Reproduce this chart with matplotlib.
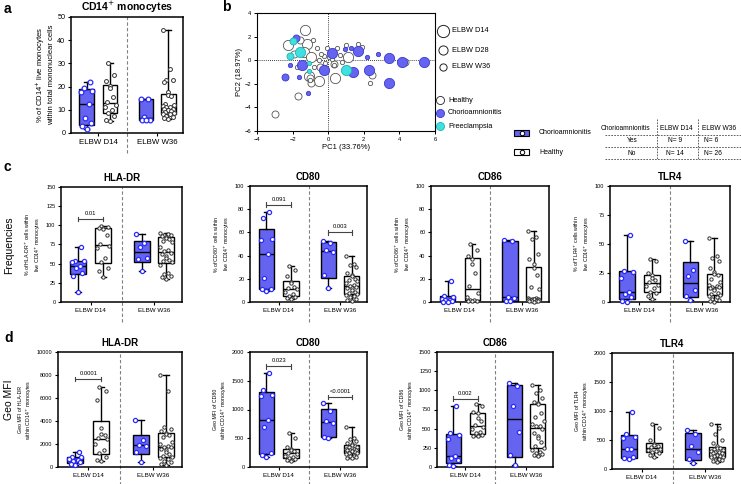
import numpy as np
import matplotlib.pyplot as plt

plt.rcParams['font.family'] = ['Liberation Sans', 'DejaVu Sans']

BLUE = '#6464f0'
BLUE_EDGE = '#2a2aff'
CYAN = '#40e0e0'
GREY_LINE = '#808080'

# ---------------- data ----------------
groups = ['ELBW D14', 'ELBW W36']

# panel a: % CD14+ monocytes  (order: D14 chorio, D14 healthy, W36 chorio, W36 healthy)
cd14_d14_c = [22, 19.5, 18.2, 17.5, 12.4, 6.4, 4.2, 2.9, 1.7]
cd14_d14_h = [30, 25, 22.5, 20.2, 19.6, 15.5, 13.5, 12, 11.2, 10, 8.8, 7.5, 5.5, 5.3]
cd14_w36_c = [14.7, 14.7, 7.0, 5.6, 5.4, 5.4]
cd14_w36_h = [44.5, 27.5, 23, 22.8, 22, 17.5, 16.5, 16, 12.5, 12, 11.5, 11, 11, 10.5,
              10.5, 10, 10, 9.5, 9, 8.5, 8, 8, 7.5, 7, 6.5, 6.0]

# panel c: frequencies
hla_f_d14_c = [72, 54, 53, 52, 47, 44, 38, 34, 13.5]
hla_f_d14_h = [99, 98, 97, 96, 95, 88, 75, 73, 70, 58, 52, 45, 40, 32]
hla_f_w36_c = [89, 77, 72, 58, 56, 41]
hla_f_w36_h = [90, 89, 88, 87, 86, 85, 84, 82, 80, 78, 72, 68, 66, 64, 62, 60, 58, 55,
               54, 52, 48, 38, 36, 34, 32, 30]

cd80_f_d14_c = [77.5, 72, 54, 53.5, 41.5, 20.5, 11.2, 11, 9.2]
cd80_f_d14_h = [31, 28, 22, 17, 16, 13, 12, 11, 9, 7, 5, 4, 3.5, 3]
cd80_f_w36_c = [53, 51, 45, 43, 23.5, 12.5]
cd80_f_w36_h = [40, 33, 32, 30, 25, 23, 22, 20, 19, 18, 16, 15, 14, 13, 12, 12, 10, 9,
                8, 7, 6, 5, 4, 3, 2, 1]

cd86_f_d14_c = [18, 5.5, 4, 3, 2, 1.5, 0.8, 0.3, 0]
cd86_f_d14_h = [50, 45, 40, 37, 33, 25, 14, 8, 4, 2, 1.5, 1, 0.8, 0.5]
cd86_f_w36_c = [53.5, 52.5, 4.5, 3.5, 1, 0.5]
cd86_f_w36_h = [61, 56, 54, 41, 37, 33, 29, 23, 13, 11, 3.5, 3.2, 3, 3, 2.8, 2.5, 2.3,
                2, 2, 1.8, 1.5, 1.2, 1, 0.8, 0.5, 0.3]

tlr4_f_d14_c = [58, 27, 26, 21, 9, 7, 4, 1, 0]
tlr4_f_d14_h = [37, 35, 25, 23, 21, 19, 17, 15, 14, 12, 9, 8, 5, 2.5]
tlr4_f_w36_c = [53, 28, 22, 10, 5, 2]
tlr4_f_w36_h = [55, 40, 38, 35, 29, 26, 24, 23, 20, 17, 15, 14, 13, 13, 12, 11, 10, 8,
                7, 6, 5, 4, 3, 2, 1, 0]

# panel d: geo MFI
hla_m_d14_c = [1300, 900, 850, 700, 600, 500, 400, 300, 200]
hla_m_d14_h = [7000, 6600, 5800, 3400, 2900, 2800, 2500, 2400, 2000, 1500, 1200, 900, 600, 500]
hla_m_w36_c = [4100, 2350, 1950, 1850, 1300, 450]
hla_m_w36_h = [8000, 6600, 3500, 3300, 3100, 3000, 2900, 2800, 2600, 2200, 2000, 1800,
               1700, 1700, 1600, 1500, 1300, 1100, 1000, 900, 800, 700, 500, 400, 300, 200]

cd80_m_d14_c = [1630, 1340, 1260, 1240, 810, 700, 240, 210, 180]
cd80_m_d14_h = [600, 500, 350, 310, 290, 270, 250, 220, 200, 180, 160, 140, 120, 100]
cd80_m_w36_c = [1110, 970, 800, 760, 520, 500]
cd80_m_w36_h = [700, 500, 480, 450, 420, 400, 380, 360, 350, 340, 320, 310, 300, 300,
                290, 280, 270, 260, 250, 240, 220, 200, 190, 180, 160, 150]

cd86_m_d14_c = [790, 450, 420, 370, 140, 120, 90, 20, 10]
cd86_m_d14_h = [820, 790, 720, 700, 640, 600, 550, 520, 500, 460, 440, 420, 410, 410]
cd86_m_w36_c = [1090, 1060, 800, 460, 160, 20]
cd86_m_w36_h = [1070, 1000, 970, 900, 850, 830, 820, 700, 650, 600, 560, 540, 530, 500,
                450, 400, 380, 320, 280, 250, 220, 200, 180, 170, 160, 150]

tlr4_m_d14_c = [980, 600, 560, 540, 350, 350, 200, 190, 180]
tlr4_m_d14_h = [770, 700, 500, 430, 420, 400, 380, 350, 330, 310, 300, 280, 250, 210]
tlr4_m_w36_c = [680, 600, 400, 300, 170, 100]
tlr4_m_w36_h = [770, 700, 600, 500, 450, 400, 370, 360, 350, 330, 310, 300, 290, 280,
                270, 250, 240, 230, 220, 210, 200, 180, 160, 150, 130, 120]

# panel b: PCA  (size code: 0 = D14, 1 = D28, 2 = W36; group: H, C, P)
pc1 = [-1.29, -2.28, -1.2, -1.38, -0.97, -1.1, -0.54, 0.36, 1.1,
       0.24, 1.42, 2.3, 3.42, 4.17, 3.42, 5.4, -1.48, -0.22, 1.66,
       1.0, -1.57,
       -1.57, -1.94, -1.72, -3.0, -0.95, -0.45, 0.3, 2.45, 4.3, -1.0,
       -1.83, -2.41,
       -2.17, -1.98,
       -0.88, -0.64, -0.07, 0.49, 1.0, 1.7, 1.89, -0.26, 0.02, 0.67, 0.77, 0.3, -0.17,
       -0.54, -0.82, -1.0, 2.36, -1.76, 0.2, -0.4,
       -2.13, -1.66, -1.16, 2.17, 2.82, 0.92, 1.3,
       -1.07, -1.07]
pc2 = [2.59, 1.32, 1.41, 0.70, 0.23, -1.35, -1.77, -1.55, 0.23,
       0.65, -1.04, -0.85, 0.2, -0.14, -1.97, -0.14, -0.37, -0.85, 0.79,
       -0.79, 0.7,
       1.69, 0.56, -3.01, -4.56, -1.97, -0.56, -0.28, -1.27, -0.14, -1.5,
       1.89, -1.41,
       0.34, 1.6,
       1.75, 1.07, 1.07, 1.07, 1.27, 1.41, 1.13, 0.34, 0.28, 0.42, -0.14, -0.42, -0.23,
       0.0, -0.56, -1.69, -1.97, -0.56, 0.1, 0.5,
       -0.42, -1.41, -2.76, 0.23, 0.56, 0.99, 1.0,
       -0.93, -0.2]
pc_time = [0] * 21 + [1] * 14 + [2] * 29
pc_group = (['H'] * 9 + ['C'] * 10 + ['P'] * 2 +
            ['H'] * 10 + ['C'] * 2 + ['P'] * 2 +
            ['H'] * 20 + ['C'] * 7 + ['P'] * 2)

table_rows = ['Yes', 'No']
n_d14 = [9, 14]
n_w36 = [6, 26]

# ---------------- figure ----------------
W, H = 741, 484
fig = plt.figure(figsize=(W / 100, H / 100), dpi=100)

ov = fig.add_axes([0, 0, 1, 1])
ov.set_xlim(0, W)
ov.set_ylim(H, 0)
ov.axis('off')


def rect(x0, x1, y0, y1):
    return [x0 / W, 1 - y1 / H, (x1 - x0) / W, (y1 - y0) / H]


POS = [0.7, 1.75, 3.35, 4.35]
TICKPOS = [1.22, 3.85]
OFFS = [0, -0.17, 0.17, -0.08, 0.08, -0.22, 0.22, -0.12, 0.12, 0.0]


def box_panel(r, title, ylabel, ylim, yticks, data, brackets=(), big=False):
    ax = fig.add_axes(r)
    fs_t = 5.2 if big else 4.0
    for k, vals in enumerate(data):
        v = np.asarray(vals, float)
        q1, med, q3 = np.percentile(v, [25, 50, 75], method='weibull')
        st = dict(whislo=v.min(), q1=q1, med=med, q3=q3, whishi=v.max(), fliers=[])
        chorio = k % 2 == 0
        ax.bxp([st], positions=[POS[k]], widths=0.65, patch_artist=True,
               showfliers=False, capwidths=0.22,
               boxprops=dict(facecolor=BLUE if chorio else 'white', edgecolor='k', lw=1),
               medianprops=dict(color='k', lw=1),
               whiskerprops=dict(color='k', lw=1), capprops=dict(color='k', lw=1),
               zorder=2)
        order = np.argsort(v)
        xs = np.empty(len(v))
        for i, idx in enumerate(order):
            xs[idx] = POS[k] + OFFS[i % len(OFFS)] * 1.1
        if chorio:
            ax.plot(xs, v, 'o', ms=3.4 if big else 3.0, mfc='white', mec=BLUE_EDGE,
                    mew=0.9, zorder=3, clip_on=False)
        else:
            ax.plot(xs, v, 'o', ms=2.8 if big else 2.4, mfc='white', mec='#333333',
                    mew=0.7, zorder=3, clip_on=False)
    ax.set_xlim(0, 5)
    ax.set_ylim(*ylim)
    ax.set_yticks(yticks)
    ax.set_xticks(TICKPOS)
    ax.set_xticklabels(groups, fontsize=fs_t + 0.5)
    ax.tick_params(axis='y', labelsize=fs_t, length=2.5, width=0.8, pad=1.5)
    ax.tick_params(axis='x', length=2.5, width=0.8, pad=1.5)
    for s in ax.spines.values():
        s.set_linewidth(1.1)
    ax.plot([2.5, 2.5], [-0.17, 1], transform=ax.get_xaxis_transform(),
            ls=(0, (3, 2)), color=GREY_LINE, lw=0.8, clip_on=False, zorder=1)
    ax.set_title(title, fontsize=7.5 if big else 7, fontweight='bold', pad=4)
    ax.set_ylabel(ylabel, fontsize=5.5 if big else 3.8, labelpad=2)
    dy = (ylim[1] - ylim[0]) * 0.02
    for i, j, y, txt in brackets:
        ax.plot([POS[i], POS[j]], [y, y], color='#444444', lw=0.8)
        for p in (POS[i], POS[j]):
            ax.plot([p, p], [y - dy, y + dy], color='#444444', lw=0.8)
        ax.text((POS[i] + POS[j]) / 2, y + dy * 1.3, txt, ha='center', va='bottom',
                fontsize=4.2)
    return ax


# panel a
box_panel(rect(71, 183, 17, 133), 'CD14$^{+}$ monocytes',
          '% of CD14$^{+}$ live monocytes\nwithin total mononuclear cells',
          (0, 50), range(0, 51, 10),
          [cd14_d14_c, cd14_d14_h, cd14_w36_c, cd14_w36_h], big=True)

# row c
box_panel(rect(61, 182, 187, 302), 'HLA-DR',
          '% of HLA-DR$^{+}$ cells within\nlive CD14$^{+}$ monocytes',
          (0, 150), range(0, 151, 25),
          [hla_f_d14_c, hla_f_d14_h, hla_f_w36_c, hla_f_w36_h],
          [(0, 1, 108, '0.01')])
box_panel(rect(250, 367, 186, 302), 'CD80',
          '% of CD80$^{+}$ cells within\nlive CD14$^{+}$ monocytes',
          (0, 100), range(0, 101, 20),
          [cd80_f_d14_c, cd80_f_d14_h, cd80_f_w36_c, cd80_f_w36_h],
          [(0, 1, 84, '0.091'), (2, 3, 60, '0.003')])
box_panel(rect(431, 549, 186, 302), 'CD86',
          '% of CD86$^{+}$ cells within\nlive CD14$^{+}$ monocytes',
          (0, 100), range(0, 101, 20),
          [cd86_f_d14_c, cd86_f_d14_h, cd86_f_w36_c, cd86_f_w36_h])
box_panel(rect(610, 730, 186, 302), 'TLR4',
          '% of TLR4$^{+}$ cells within\nlive CD14$^{+}$ monocytes',
          (0, 100), range(0, 101, 25),
          [tlr4_f_d14_c, tlr4_f_d14_h, tlr4_f_w36_c, tlr4_f_w36_h])

# row d
box_panel(rect(58, 182, 352, 467), 'HLA-DR',
          'Geo MFI of HLA-DR\nwithin CD14$^{+}$ monocytes',
          (0, 10000), range(0, 10001, 2000),
          [hla_m_d14_c, hla_m_d14_h, hla_m_w36_c, hla_m_w36_h],
          [(0, 1, 7650, '0.0001')])
box_panel(rect(250, 367, 352, 467), 'CD80',
          'Geo MFI of CD80\nwithin CD14$^{+}$ monocytes',
          (0, 2000), range(0, 2001, 500),
          [cd80_m_d14_c, cd80_m_d14_h, cd80_m_w36_c, cd80_m_w36_h],
          [(0, 1, 1750, '0.023'), (2, 3, 1215, '<0.0001')])
box_panel(rect(437, 553, 352, 467), 'CD86',
          'Geo MFI of CD86\nwithin CD14$^{+}$ monocytes',
          (0, 1500), range(0, 1501, 250),
          [cd86_m_d14_c, cd86_m_d14_h, cd86_m_w36_c, cd86_m_w36_h],
          [(0, 1, 890, '0.002')])
box_panel(rect(612, 733, 353, 469), 'TLR4',
          'Geo MFI of TLR4\nwithin CD14$^{+}$ monocytes',
          (0, 2000), range(0, 2001, 500),
          [tlr4_m_d14_c, tlr4_m_d14_h, tlr4_m_w36_c, tlr4_m_w36_h])

# panel b: PCA
axb = fig.add_axes(rect(257, 435, 13, 131))
sizes = [34, 16, 6]
styles = {'H': ('white', '#555555'), 'C': (BLUE, '#3a3ad0'), 'P': (CYAN, '#20b0b0')}
x = np.array(pc1)
y = np.array(pc2)
t = np.array(pc_time)
g = np.array(pc_group)
for grp in ['H', 'C', 'P']:
    for tt in [0, 1, 2]:
        m = (g == grp) & (t == tt)
        fc, ec = styles[grp]
        axb.scatter(x[m], y[m], s=sizes[tt] * 1.6, facecolor=fc, edgecolor=ec,
                    linewidth=0.6, zorder=3)
axb.axvline(0, color='k', lw=0.6, ls=(0, (1, 1.5)), zorder=1)
axb.axhline(0, color='k', lw=0.6, ls=(0, (1, 1.5)), zorder=1)
axb.set_xlim(-4, 6)
axb.set_ylim(-6, 4)
axb.set_xticks(range(-4, 7, 2))
axb.set_yticks(range(-6, 5, 2))
axb.tick_params(labelsize=4.2, length=2.5, width=0.7, pad=1.5)
for s in axb.spines.values():
    s.set_linewidth(0.8)
axb.set_xlabel('PC1 (33.76%)', fontsize=5.5, labelpad=2)
axb.set_ylabel('PC2 (18.97%)', fontsize=5.5, labelpad=1)

# panel b legends
for yy, ms, lab in [(31, 8.8, 'ELBW D14'), (50, 6.6, 'ELBW D28'), (67, 5.2, 'ELBW W36')]:
    ov.plot([443], [yy], 'o', ms=ms, mfc='white', mec='#222222', mew=0.7)
    ov.text(452, yy, lab, fontsize=5.3, va='center')
for yy, key, lab in [(100, 'H', 'Healthy'), (113, 'C', 'Chorioamnionitis'),
                     (126, 'P', 'Preeclampsia')]:
    fc, ec = styles[key]
    ov.plot([440], [yy], 'o', ms=5.8, mfc=fc, mec='#222222' if key == 'H' else ec, mew=0.6)
    ov.text(448, yy, lab, fontsize=5.3, va='center')

# box legend
for yy, fc, lab in [(133, BLUE, 'Chorioamnionitis'), (152, 'white', 'Healthy')]:
    ov.add_patch(plt.Rectangle((514, yy - 3), 15, 6, facecolor=fc, edgecolor='k', lw=0.8))
    ov.plot([521.5], [yy], 'o', ms=3.2, mfc='white', mec='k', mew=0.7)
    ov.text(539, yy, lab, fontsize=5, va='center')

# table
tfs = 4.8
ov.text(625, 128, 'Chorioamnionitis', fontsize=tfs, ha='center', va='center')
ov.text(676, 128, groups[0], fontsize=tfs, ha='center', va='center')
ov.text(719, 128, groups[1], fontsize=tfs, ha='center', va='center')
for k, lab in enumerate(table_rows):
    yy = 141 + k * 12.5
    ov.text(632, yy, lab, fontsize=tfs, ha='center', va='center')
    ov.text(675, yy, f'N= {n_d14[k]}', fontsize=tfs, ha='center', va='center')
    ov.text(704, yy, f'N= {n_w36[k]}', fontsize=tfs, ha='left', va='center')
for yy in (134.5, 147, 159):
    ov.plot([605, 741], [yy, yy], color='#444444', lw=0.6, ls=(0, (2, 1.5)))
for xx in (657, 698):
    ov.plot([xx, xx], [119, 159], color='#444444', lw=0.6, ls=(0, (2, 1.5)))

# row titles and panel letters
ov.text(9, 245, 'Frequencies', fontsize=7.5, rotation=90, ha='center', va='center')
ov.text(9, 400, 'Geo MFI', fontsize=7.5, rotation=90, ha='center', va='center')
for lx, ly, lt in [(4, 9, 'a'), (222, 7, 'b'), (4, 167, 'c'), (4, 338, 'd')]:
    ov.text(lx, ly, lt, fontsize=10, fontweight='bold', ha='left', va='center')

fig.savefig('out.png', dpi=100)
